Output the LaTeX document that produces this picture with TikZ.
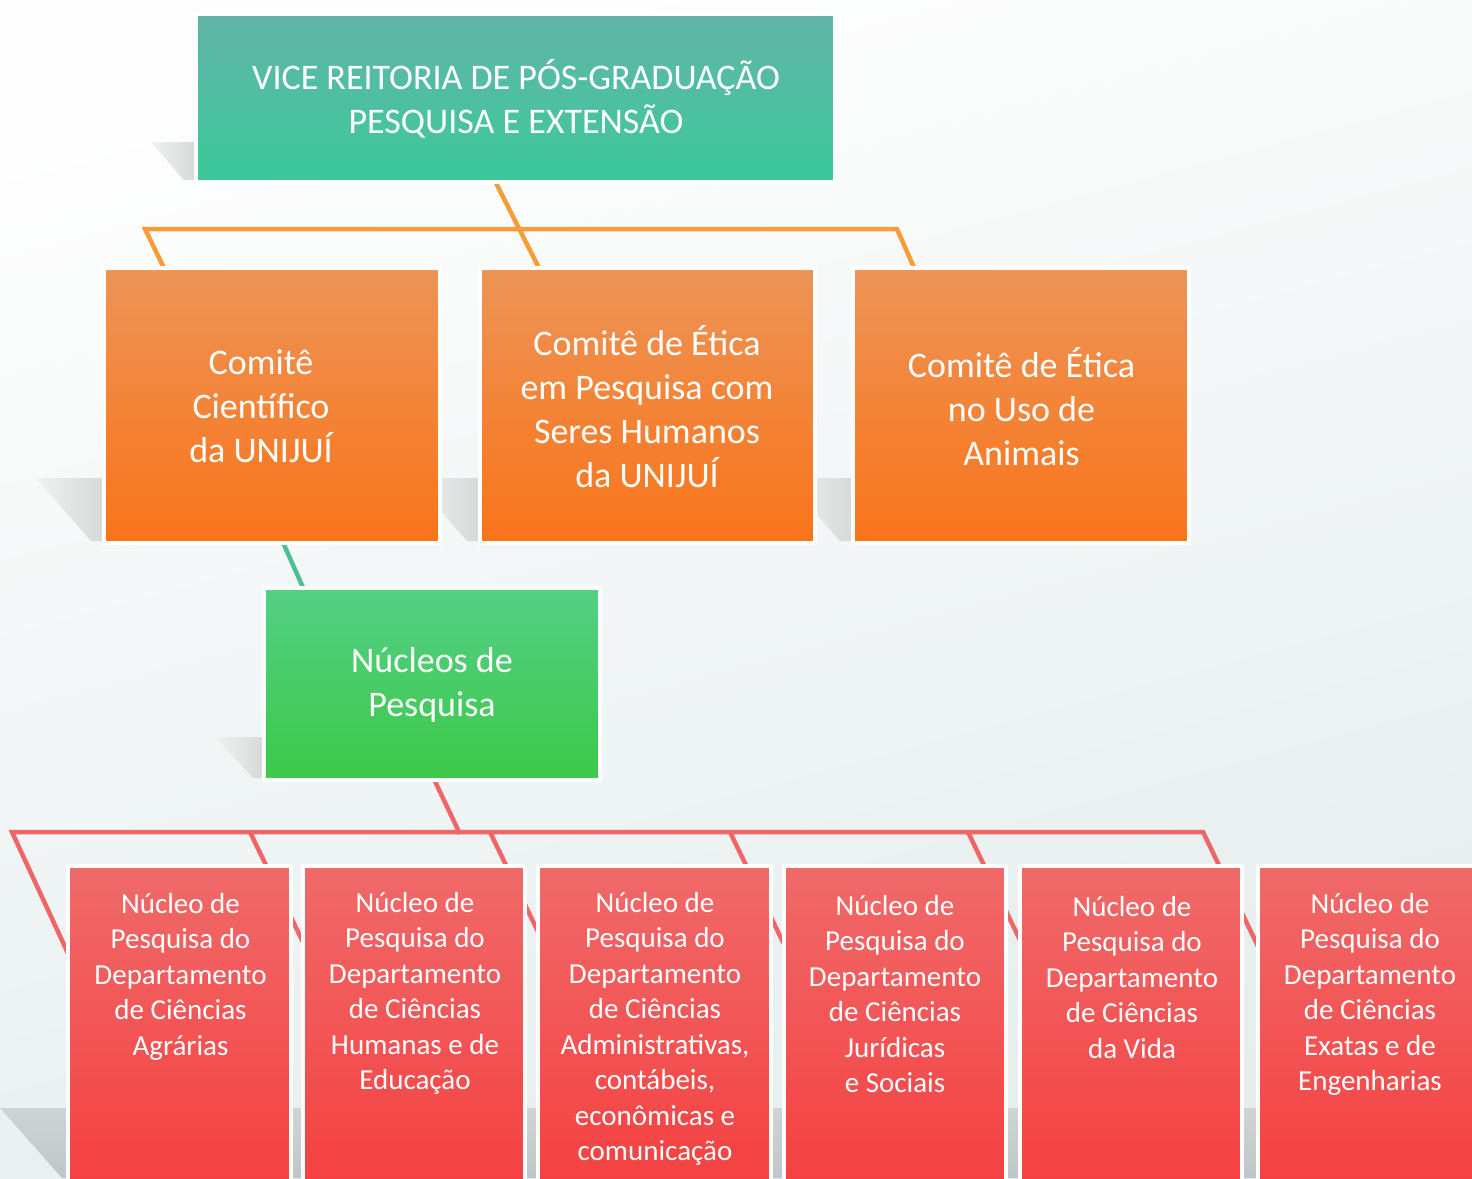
\documentclass[tikz,border=0pt]{standalone}
\usepackage{fontspec}
\setmainfont{Carlito}
\usetikzlibrary{calc}
\pgfdeclarelayer{background}
\pgfdeclarelayer{lines}
\pgfsetlayers{background,lines,main}
\definecolor{bgtop}{RGB}{254,254,254}
\definecolor{bgbot}{RGB}{229,237,237}
\definecolor{tealtop}{RGB}{99,181,168}
\definecolor{tealbot}{RGB}{59,201,154}
\definecolor{orgtop}{RGB}{237,148,86}
\definecolor{orgbot}{RGB}{249,116,26}
\definecolor{grntop}{RGB}{84,207,134}
\definecolor{grnbot}{RGB}{60,201,72}
\definecolor{redtop}{RGB}{240,106,106}
\definecolor{redbot}{RGB}{245,62,62}
\definecolor{orgline}{RGB}{248,156,58}
\definecolor{tealline}{RGB}{78,190,150}
\definecolor{redline}{RGB}{239,102,102}
\definecolor{shad}{RGB}{214,216,216}
\definecolor{shadlight}{RGB}{240,242,242}
\definecolor{floortop}{RGB}{207,212,212}
\definecolor{floorbot}{RGB}{190,199,199}
\tikzset{
  box/.style={rectangle, inner sep=0pt, outer sep=0pt, draw=white, line width=4pt},
  tealbox/.style={box, top color=tealtop, bottom color=tealbot},
  orgbox/.style={box, top color=orgtop, bottom color=orgbot},
  grnbox/.style={box, top color=grntop, bottom color=grnbot},
  redbox/.style={box, top color=redtop, bottom color=redbot},
  bigtxt/.style={text=white, align=center, inner sep=0pt, font=\fontsize{36}{44}\selectfont},
  smalltxt/.style={text=white, align=center, inner sep=0pt, anchor=base, font=\fontsize{29}{35.5}\selectfont},
  orgln/.style={draw=orgline, line width=4.5pt, line join=miter},
  tealln/.style={draw=tealline, line width=4.5pt},
  redln/.style={draw=redline, line width=4.5pt, line join=miter},
  shadowfill/.style={left color=shadlight, right color=shad},
}
\begin{document}
\begin{tikzpicture}[x=1pt,y=-1pt]
\useasboundingbox (0,0) rectangle (1472,1178);
\begin{pgfonlayer}{background}
  \shade[top color=bgtop, bottom color=bgbot, shading angle=15] (0,0) rectangle (1472,1178);
  % floor shadow
  \shade[top color=floortop, bottom color=floorbot] (0,1108) -- (1472,1108) -- (1472,1178) -- (62,1178) -- cycle;
  % box shadows
  \shade[shadowfill] (151,142) -- (198,142) -- (198,180) -- (184,180) -- cycle;
  \shade[shadowfill] (36,478) -- (106,478) -- (106,541) -- (91,541) -- cycle;
  \shade[shadowfill] (412,478) -- (482,478) -- (482,541) -- (467,541) -- cycle;
  \shade[shadowfill] (785,478) -- (855,478) -- (855,541) -- (840,541) -- cycle;
  \shade[shadowfill] (215,737) -- (266,737) -- (266,778) -- (253,778) -- cycle;
\end{pgfonlayer}

\begin{scope}
\clip (0,0) rectangle (1472,1178);
% boxes
\node[tealbox, minimum width=639pt, minimum height=168pt] (vr) at (515.5,98) {};
\node[orgbox, minimum width=336pt, minimum height=275pt] (c1) at (272,405.5) {};
\node[orgbox, minimum width=335pt, minimum height=275pt] (c2) at (647.5,405.5) {};
\node[orgbox, minimum width=336pt, minimum height=275pt] (c3) at (1021,405.5) {};
\node[grnbox, minimum width=336pt, minimum height=192pt] (np) at (432,684) {};
\node[redbox, minimum width=223pt, minimum height=336pt] (n1) at (179.5,1034) {};
\node[redbox, minimum width=222pt, minimum height=336pt] (n2) at (414,1034) {};
\node[redbox, minimum width=233pt, minimum height=336pt] (n3) at (654.5,1034) {};
\node[redbox, minimum width=222pt, minimum height=336pt] (n4) at (895,1034) {};
\node[redbox, minimum width=222pt, minimum height=336pt] (n5) at (1131,1034) {};
\node[redbox, minimum width=224pt, minimum height=336pt] (n6) at (1370,1034) {};
\end{scope}

% texts (base anchor = baseline of the last line)
\node[bigtxt] (vrt) at (516,99) {VICE REITORIA DE PÓS-GRADUAÇÃO\\PESQUISA E EXTENSÃO};
\node[bigtxt] (c1t) at (261,406) {Comitê\\Científico\\da UNIJUÍ};
\node[bigtxt] (c2t) at (647,407) {Comitê de Ética\\em Pesquisa com\\Seres Humanos\\da UNIJUÍ};
\node[bigtxt] (c3t) at (1021.5,407) {Comitê de Ética\\no Uso de\\Animais};
\node[bigtxt] (npt) at (432,685) {Núcleos de\\Pesquisa};
\node[smalltxt] (n1t) at (180.5,1055) {Núcleo de\\Pesquisa do\\Departamento\\de Ciências\\Agrárias};
\node[smalltxt] (n2t) at (415,1089.5) {Núcleo de\\Pesquisa do\\Departamento\\de Ciências\\Humanas e de\\Educação};
\node[smalltxt] (n3t) at (655,1160.5) {Núcleo de\\Pesquisa do\\Departamento\\de Ciências\\Administrativas,\\contábeis,\\econômicas e\\comunicação};
\node[smalltxt] (n4t) at (895,1092.5) {Núcleo de\\Pesquisa do\\Departamento\\de Ciências\\Jurídicas\\e Sociais};
\node[smalltxt] (n5t) at (1132,1058) {Núcleo de\\Pesquisa do\\Departamento\\de Ciências\\da Vida};
\node[smalltxt] (n6t) at (1370,1090.5) {Núcleo de\\Pesquisa do\\Departamento\\de Ciências\\Exatas e de\\Engenharias};

% connectors (below boxes)
\begin{pgfonlayer}{lines}
  % top level
  \coordinate (vrout) at (492,175);
  \coordinate (c2in) at (541,272);
  \coordinate (ob1) at (166,272);
  \coordinate (ob2) at (145,229);
  \coordinate (ob3) at (897,229);
  \coordinate (ob4) at (916,272);
  \draw[orgln] (ob1) -- (ob2) -- (ob3) -- (ob4);
  \draw[orgln] (vrout) -- (c2in);
  % comite -> nucleos
  \coordinate (c1out) at (281,538);
  \coordinate (npin) at (305,592);
  \draw[tealln] (c1out) -- (npin);
  % nucleos -> bar
  \coordinate (npout) at (432,775);
  \coordinate (rbar) at (460,834);
  \draw[redln] (npout) -- (rbar);
  % red bracket
  \coordinate (rb0) at (72,962);
  \coordinate (rbl) at (12,832);
  \coordinate (rbr) at (1203,832);
  \coordinate (rbe) at (1267,965);
  \draw[redln] (rb0) -- (rbl) -- (rbr) -- (rbe);
  \coordinate (d1a) at (250,832); \coordinate (d1b) at (314,965);
  \coordinate (d2a) at (490,832); \coordinate (d2b) at (554,965);
  \coordinate (d3a) at (730,832); \coordinate (d3b) at (794,965);
  \coordinate (d4a) at (968,832); \coordinate (d4b) at (1032,965);
  \draw[redln] (d1a) -- (d1b);
  \draw[redln] (d2a) -- (d2b);
  \draw[redln] (d3a) -- (d3b);
  \draw[redln] (d4a) -- (d4b);
\end{pgfonlayer}
\end{tikzpicture}
\end{document}
